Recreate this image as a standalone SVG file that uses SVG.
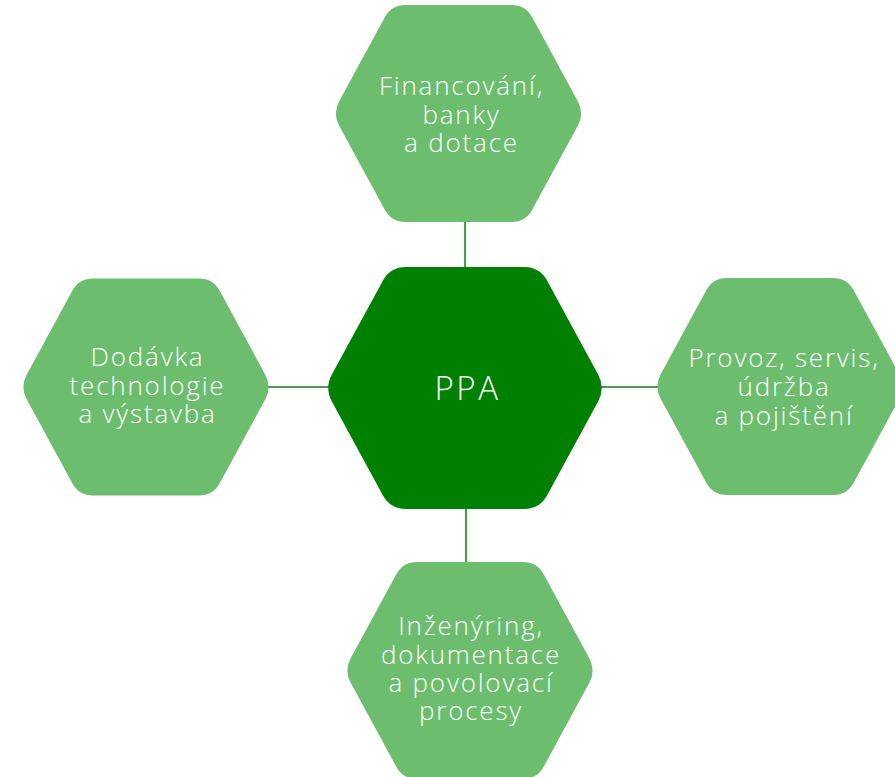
<svg xmlns="http://www.w3.org/2000/svg" xmlns:xlink="http://www.w3.org/1999/xlink" width="895" height="777" viewBox="0 0 895 777">
<style>
.conn{stroke:#4f9a4f;stroke-width:2.2;fill:none}
.lt{fill:#6dbd6f}
.dk{fill:#008000}
.t{font-family:"Open Sans","Liberation Sans",sans-serif;font-weight:300;fill:#ffffff;text-anchor:middle;font-size:26px;letter-spacing:1.8px}
.tc{font-size:33px;letter-spacing:2.5px}
</style>
<defs>
<path id="hex" d="M -53,-108.5 L 53,-108.5 Q 67,-108.5 73.7,-96.2 L 119.3,-12.3 Q 126,0 119.3,12.3 L 73.7,96.2 Q 67,108.5 53,108.5 L -53,108.5 Q -67,108.5 -73.7,96.2 L -119.3,12.3 Q -126,0 -119.3,-12.3 L -73.7,-96.2 Q -67,-108.5 -53,-108.5 Z"/>
</defs>
<rect width="895" height="777" fill="#ffffff"/>
<g id="connectors">
<line class="conn" x1="465" y1="220" x2="465" y2="270"/>
<line class="conn" x1="466" y1="505" x2="466" y2="565"/>
<line class="conn" x1="268" y1="387" x2="330" y2="387"/>
<line class="conn" x1="600" y1="387" x2="660" y2="387"/>
</g>
<g id="node-ppa">
<use xlink:href="#hex" class="dk" transform="translate(465,388) scale(1.115)"/>
<text class="t tc" x="467.5" y="400">PPA</text>
</g>
<g id="node-financovani">
<use xlink:href="#hex" class="lt" transform="translate(458.5,113.5)"/>
<text class="t"><tspan x="461.5" y="95">Financování,</tspan><tspan x="461.5" y="124">banky</tspan><tspan x="461.5" y="152">a dotace</tspan></text>
</g>
<g id="node-dodavka">
<use xlink:href="#hex" class="lt" transform="translate(146,387)"/>
<text class="t"><tspan x="147.5" y="366">Dodávka</tspan><tspan x="147.5" y="394.5">technologie</tspan><tspan x="147.5" y="423">a výstavba</tspan></text>
</g>
<g id="node-provoz">
<use xlink:href="#hex" class="lt" transform="translate(780,386.5)"/>
<text class="t"><tspan x="784" y="367">Provoz, servis,</tspan><tspan x="784" y="396">údržba</tspan><tspan x="784" y="425">a pojištění</tspan></text>
</g>
<g id="node-inzenyring">
<use xlink:href="#hex" class="lt" transform="translate(470,670.5)"/>
<text class="t"><tspan x="471" y="635">Inženýring,</tspan><tspan x="471" y="663.5">dokumentace</tspan><tspan x="471" y="692">a povolovací</tspan><tspan x="471" y="720">procesy</tspan></text>
</g>
</svg>
